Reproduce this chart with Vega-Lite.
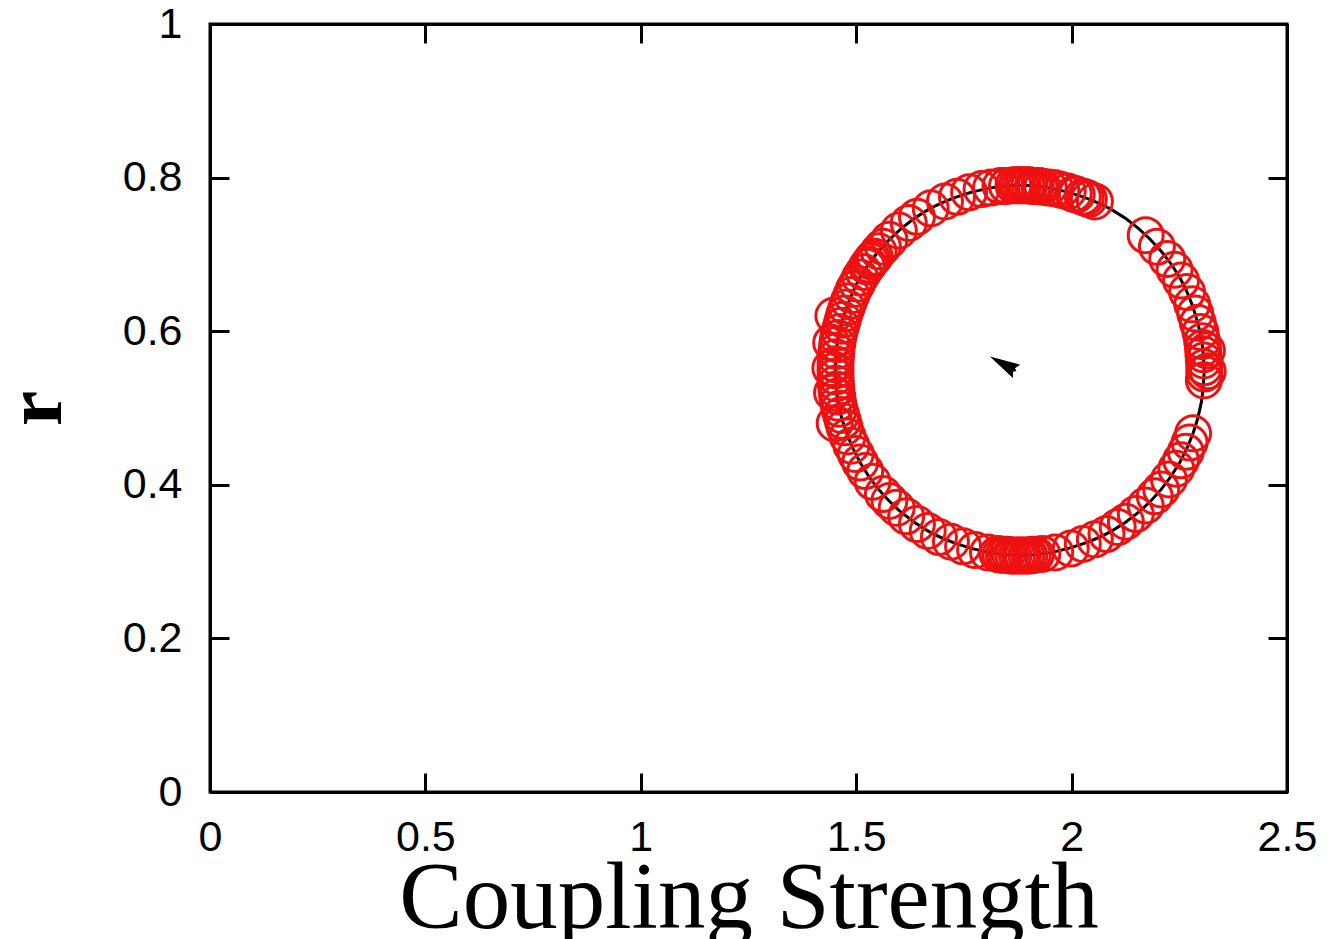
{
  "$schema": "https://vega.github.io/schema/vega-lite/v6.json",
  "width": 1077,
  "height": 768,
  "autosize": {"type": "none"},
  "padding": {"left": 210, "top": 24, "right": 41, "bottom": 147},
  "background": "white",
  "config": {
    "view": {"stroke": "black", "strokeWidth": 3},
    "axis": {
      "grid": false,
      "domainColor": "black",
      "domainWidth": 3,
      "tickColor": "black",
      "tickWidth": 3,
      "tickSize": -19,
      "labelFont": "Liberation Sans",
      "labelFontSize": 43,
      "labelColor": "black",
      "titleColor": "black"
    }
  },
  "datasets": {
    "pts": [
      {"x": 2.054, "y": 0.769}, {"x": 2.040, "y": 0.772}, {"x": 2.033, "y": 0.774}, {"x": 2.026, "y": 0.775},
      {"x": 2.012, "y": 0.778}, {"x": 2.005, "y": 0.779}, {"x": 1.991, "y": 0.782}, {"x": 1.976, "y": 0.784},
      {"x": 1.962, "y": 0.786}, {"x": 1.947, "y": 0.787}, {"x": 1.932, "y": 0.788}, {"x": 1.925, "y": 0.789},
      {"x": 1.917, "y": 0.789}, {"x": 1.910, "y": 0.789}, {"x": 1.902, "y": 0.790}, {"x": 1.895, "y": 0.790},
      {"x": 1.887, "y": 0.790}, {"x": 1.880, "y": 0.790}, {"x": 1.873, "y": 0.790}, {"x": 1.865, "y": 0.790},
      {"x": 1.850, "y": 0.789}, {"x": 1.835, "y": 0.789}, {"x": 1.813, "y": 0.787}, {"x": 1.791, "y": 0.785},
      {"x": 1.762, "y": 0.781}, {"x": 1.734, "y": 0.775}, {"x": 1.706, "y": 0.769}, {"x": 1.673, "y": 0.760},
      {"x": 1.641, "y": 0.749}, {"x": 1.622, "y": 0.741},
      {"x": 1.599, "y": 0.731}, {"x": 1.577, "y": 0.719}, {"x": 1.562, "y": 0.710}, {"x": 1.552, "y": 0.704},
      {"x": 1.543, "y": 0.697}, {"x": 1.538, "y": 0.694}, {"x": 1.534, "y": 0.691}, {"x": 1.529, "y": 0.687},
      {"x": 1.525, "y": 0.684}, {"x": 1.517, "y": 0.677}, {"x": 1.509, "y": 0.670}, {"x": 1.502, "y": 0.662},
      {"x": 1.495, "y": 0.655}, {"x": 1.489, "y": 0.647}, {"x": 1.483, "y": 0.639}, {"x": 1.478, "y": 0.631},
      {"x": 1.473, "y": 0.623}, {"x": 1.469, "y": 0.615}, {"x": 1.465, "y": 0.607}, {"x": 1.461, "y": 0.599},
      {"x": 1.458, "y": 0.591}, {"x": 1.456, "y": 0.583}, {"x": 1.454, "y": 0.574}, {"x": 1.453, "y": 0.566},
      {"x": 1.452, "y": 0.557}, {"x": 1.452, "y": 0.549}, {"x": 1.452, "y": 0.541}, {"x": 1.453, "y": 0.532},
      {"x": 1.454, "y": 0.524}, {"x": 1.456, "y": 0.515}, {"x": 1.458, "y": 0.507}, {"x": 1.461, "y": 0.499},
      {"x": 1.465, "y": 0.491}, {"x": 1.469, "y": 0.483}, {"x": 1.473, "y": 0.475}, {"x": 1.480, "y": 0.463},
      {"x": 1.489, "y": 0.451}, {"x": 1.499, "y": 0.440}, {"x": 1.509, "y": 0.429}, {"x": 1.521, "y": 0.418},
      {"x": 1.538, "y": 0.404},
      {"x": 1.440, "y": 0.552}, {"x": 1.442, "y": 0.585}, {"x": 1.444, "y": 0.520}, {"x": 1.447, "y": 0.620},
      {"x": 1.450, "y": 0.480},
      {"x": 1.562, "y": 0.388}, {"x": 1.577, "y": 0.379}, {"x": 1.594, "y": 0.370}, {"x": 1.616, "y": 0.359},
      {"x": 1.641, "y": 0.349}, {"x": 1.666, "y": 0.340}, {"x": 1.692, "y": 0.332}, {"x": 1.720, "y": 0.326},
      {"x": 1.748, "y": 0.320}, {"x": 1.776, "y": 0.315}, {"x": 1.806, "y": 0.312},
      {"x": 1.828, "y": 0.310}, {"x": 1.835, "y": 0.309}, {"x": 1.843, "y": 0.309}, {"x": 1.850, "y": 0.309},
      {"x": 1.858, "y": 0.308}, {"x": 1.865, "y": 0.308}, {"x": 1.873, "y": 0.308}, {"x": 1.880, "y": 0.308},
      {"x": 1.887, "y": 0.308}, {"x": 1.895, "y": 0.308}, {"x": 1.902, "y": 0.308}, {"x": 1.910, "y": 0.309},
      {"x": 1.917, "y": 0.309}, {"x": 1.932, "y": 0.310}, {"x": 1.962, "y": 0.312}, {"x": 1.998, "y": 0.317},
      {"x": 2.026, "y": 0.323}, {"x": 2.054, "y": 0.329}, {"x": 2.081, "y": 0.336}, {"x": 2.107, "y": 0.345},
      {"x": 2.126, "y": 0.352}, {"x": 2.149, "y": 0.362}, {"x": 2.172, "y": 0.373}, {"x": 2.193, "y": 0.385},
      {"x": 2.208, "y": 0.394}, {"x": 2.226, "y": 0.407}, {"x": 2.243, "y": 0.421}, {"x": 2.254, "y": 0.432},
      {"x": 2.265, "y": 0.443}, {"x": 2.274, "y": 0.455}, {"x": 2.282, "y": 0.467},
      {"x": 2.307, "y": 0.536}, {"x": 2.308, "y": 0.545}, {"x": 2.308, "y": 0.553}, {"x": 2.307, "y": 0.562},
      {"x": 2.306, "y": 0.570}, {"x": 2.305, "y": 0.578}, {"x": 2.303, "y": 0.587}, {"x": 2.299, "y": 0.599},
      {"x": 2.293, "y": 0.611}, {"x": 2.287, "y": 0.623}, {"x": 2.280, "y": 0.635}, {"x": 2.268, "y": 0.651},
      {"x": 2.254, "y": 0.666}, {"x": 2.239, "y": 0.680}, {"x": 2.222, "y": 0.694}, {"x": 2.198, "y": 0.710},
      {"x": 2.172, "y": 0.725}, {"x": 2.316, "y": 0.548}, {"x": 2.314, "y": 0.575}
    ],
    "curve": [
      {"i": 0, "x": 2.308, "y": 0.549}, {"i": 1, "x": 2.301, "y": 0.591}, {"i": 2, "x": 2.282, "y": 0.631},
      {"i": 3, "x": 2.251, "y": 0.670}, {"i": 4, "x": 2.208, "y": 0.704}, {"i": 5, "x": 2.155, "y": 0.734},
      {"i": 6, "x": 2.094, "y": 0.758}, {"i": 7, "x": 2.026, "y": 0.775}, {"i": 8, "x": 1.954, "y": 0.786},
      {"i": 9, "x": 1.880, "y": 0.790}, {"i": 10, "x": 1.806, "y": 0.786}, {"i": 11, "x": 1.734, "y": 0.775},
      {"i": 12, "x": 1.666, "y": 0.758}, {"i": 13, "x": 1.605, "y": 0.734}, {"i": 14, "x": 1.552, "y": 0.704},
      {"i": 15, "x": 1.509, "y": 0.670}, {"i": 16, "x": 1.478, "y": 0.631}, {"i": 17, "x": 1.458, "y": 0.591},
      {"i": 18, "x": 1.452, "y": 0.549}, {"i": 19, "x": 1.458, "y": 0.507}, {"i": 20, "x": 1.478, "y": 0.467},
      {"i": 21, "x": 1.509, "y": 0.429}, {"i": 22, "x": 1.552, "y": 0.394}, {"i": 23, "x": 1.605, "y": 0.364},
      {"i": 24, "x": 1.666, "y": 0.340}, {"i": 25, "x": 1.734, "y": 0.323}, {"i": 26, "x": 1.806, "y": 0.312},
      {"i": 27, "x": 1.880, "y": 0.308}, {"i": 28, "x": 1.954, "y": 0.312}, {"i": 29, "x": 2.026, "y": 0.323},
      {"i": 30, "x": 2.094, "y": 0.340}, {"i": 31, "x": 2.155, "y": 0.364}, {"i": 32, "x": 2.208, "y": 0.394},
      {"i": 33, "x": 2.251, "y": 0.429}, {"i": 34, "x": 2.282, "y": 0.467}, {"i": 35, "x": 2.301, "y": 0.507},
      {"i": 36, "x": 2.308, "y": 0.549}
    ],
    "arrow": [{"x": 1.849, "y": 0.555}]
  },
  "layer": [
    {
      "data": {"name": "curve"},
      "mark": {"type": "line", "color": "black", "strokeWidth": 3, "interpolate": "catmull-rom"},
      "encoding": {
        "x": {"field": "x", "type": "quantitative",
          "scale": {"domain": [0, 2.5], "nice": false, "zero": false},
          "axis": {"orient": "bottom", "values": [0, 0.5, 1, 1.5, 2, 2.5], "format": "~g", "labelPadding": 43, "labelFlush": false,
            "title": "Coupling Strength", "titleFont": "Liberation Serif", "titleFontSize": 95, "titleFontWeight": "normal",
            "titleBaseline": "alphabetic", "titleX": 538.5, "titleY": 135, "titleAnchor": "middle"}},
        "y": {"field": "y", "type": "quantitative",
          "scale": {"domain": [0, 1], "nice": false, "zero": false},
          "axis": {"orient": "left", "values": [0, 0.2, 0.4, 0.6, 0.8, 1], "format": "~g", "labelPadding": 47, "labelFlush": false,
            "title": "r", "titleFont": "Liberation Serif", "titleFontSize": 80, "titleFontWeight": "bold",
            "titleAngle": -90, "titleBaseline": "alphabetic", "titleX": -150, "titleY": 384, "titleAnchor": "middle"}},
        "order": {"field": "i", "type": "quantitative"}
      }
    },
    {
      "data": {"name": "pts"},
      "mark": {"type": "point", "shape": "circle", "filled": false, "color": "#ee1111", "strokeWidth": 3, "size": 1225, "opacity": 1},
      "encoding": {
        "x": {"field": "x", "type": "quantitative",
          "axis": {"orient": "top", "values": [0, 0.5, 1, 1.5, 2, 2.5], "labels": false, "title": null}},
        "y": {"field": "y", "type": "quantitative",
          "axis": {"orient": "right", "values": [0, 0.2, 0.4, 0.6, 0.8, 1], "labels": false, "title": null}}
      }
    },
    {
      "data": {"name": "arrow"},
      "mark": {"type": "point", "shape": "M0,-1L0.4,0.6L0.1,0.45L0,0.6L-0.1,0.45L-0.4,0.6Z", "filled": true, "color": "black", "size": 1450, "angle": 299, "opacity": 1},
      "encoding": {
        "x": {"field": "x", "type": "quantitative", "axis": null},
        "y": {"field": "y", "type": "quantitative", "axis": null}
      }
    }
  ],
  "resolve": {"axis": {"x": "independent", "y": "independent"}}
}
